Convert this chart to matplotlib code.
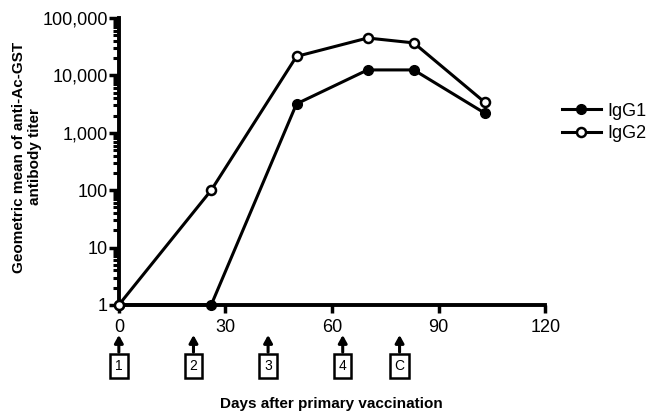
import matplotlib
matplotlib.use("Agg")
import matplotlib.pyplot as plt
from matplotlib.ticker import FixedLocator, LogLocator, NullFormatter
from matplotlib.transforms import blended_transform_factory

plt.rcParams['font.family'] = ['Liberation Sans', 'DejaVu Sans']

# data
days = [0, 26, 50, 70, 83, 103]
igg1 = [1, 1, 3200, 12500, 12500, 2200]
igg2 = [1, 100, 21500, 45000, 37000, 3400]

dose_days = [0, 21, 42, 63, 79]
dose_labels = ['1', '2', '3', '4', 'C']

ytick_vals = [1, 10, 100, 1000, 10000, 100000]
ytick_labels = ['1', '10', '100', '1,000', '10,000', '100,000']
xtick_vals = [0, 30, 60, 90, 120]

fig = plt.figure(figsize=(6.53, 4.12), dpi=100)
ax = fig.add_axes([0.182, 0.26, 0.653, 0.696])

ax.plot(days, igg1, '-o', color='black', lw=2.2, ms=7, mfc='black',
        mec='black', label='IgG1', clip_on=False, zorder=5)
ax.plot(days, igg2, '-o', color='black', lw=2.2, ms=6.5, mfc='white',
        mec='black', mew=1.8, label='IgG2', clip_on=False, zorder=5)

ax.set_yscale('log')
ax.set_ylim(1, 100000)
ax.set_xlim(0, 120)
ax.yaxis.set_major_locator(FixedLocator(ytick_vals))
ax.set_yticklabels(ytick_labels)
ax.yaxis.set_minor_locator(LogLocator(base=10, subs=range(2, 10)))
ax.yaxis.set_minor_formatter(NullFormatter())
ax.set_xticks(xtick_vals)

for s in ['top', 'right']:
    ax.spines[s].set_visible(False)
for s in ['left', 'bottom']:
    ax.spines[s].set_linewidth(2.8)

ax.tick_params(axis='y', which='major', length=7, width=2.5, labelsize=13, pad=1)
ax.tick_params(axis='y', which='minor', length=4.5, width=2.2)
ax.tick_params(axis='x', which='major', length=6, width=2.5, labelsize=13, pad=4)

fig.text(27 / 653, 1 - 157 / 412, 'Geometric mean of anti-Ac-GST\nantibody titer',
         rotation=90, ha='center', va='center', multialignment='center',
         fontsize=11, fontweight='bold', linespacing=1.1)
fig.text(331 / 653, 1 - 404 / 412, 'Days after primary vaccination', ha='center',
         va='center', fontsize=11, fontweight='bold')

# vaccination arrows with boxed labels
trans = blended_transform_factory(ax.transData, ax.transAxes)
for d, lab in zip(dose_days, dose_labels):
    ax.annotate('', xy=(d, -0.105), xytext=(d, -0.165), xycoords=trans,
                textcoords=trans,
                arrowprops=dict(arrowstyle='-|>,head_length=0.45,head_width=0.25',
                                color='black', lw=2.2, shrinkA=0, shrinkB=0),
                annotation_clip=False)
    ax.text(d, -0.213, lab, transform=trans, ha='center', va='center',
            fontsize=10, clip_on=False,
            bbox=dict(boxstyle='square,pad=0.35', fc='white', ec='black', lw=1.8))

ax.legend(loc='center left', bbox_to_anchor=(1.0, 0.636), frameon=False,
          fontsize=13, handlelength=2.2, handletextpad=0.35, labelspacing=0.33)

fig.savefig('out.png', dpi=100)
